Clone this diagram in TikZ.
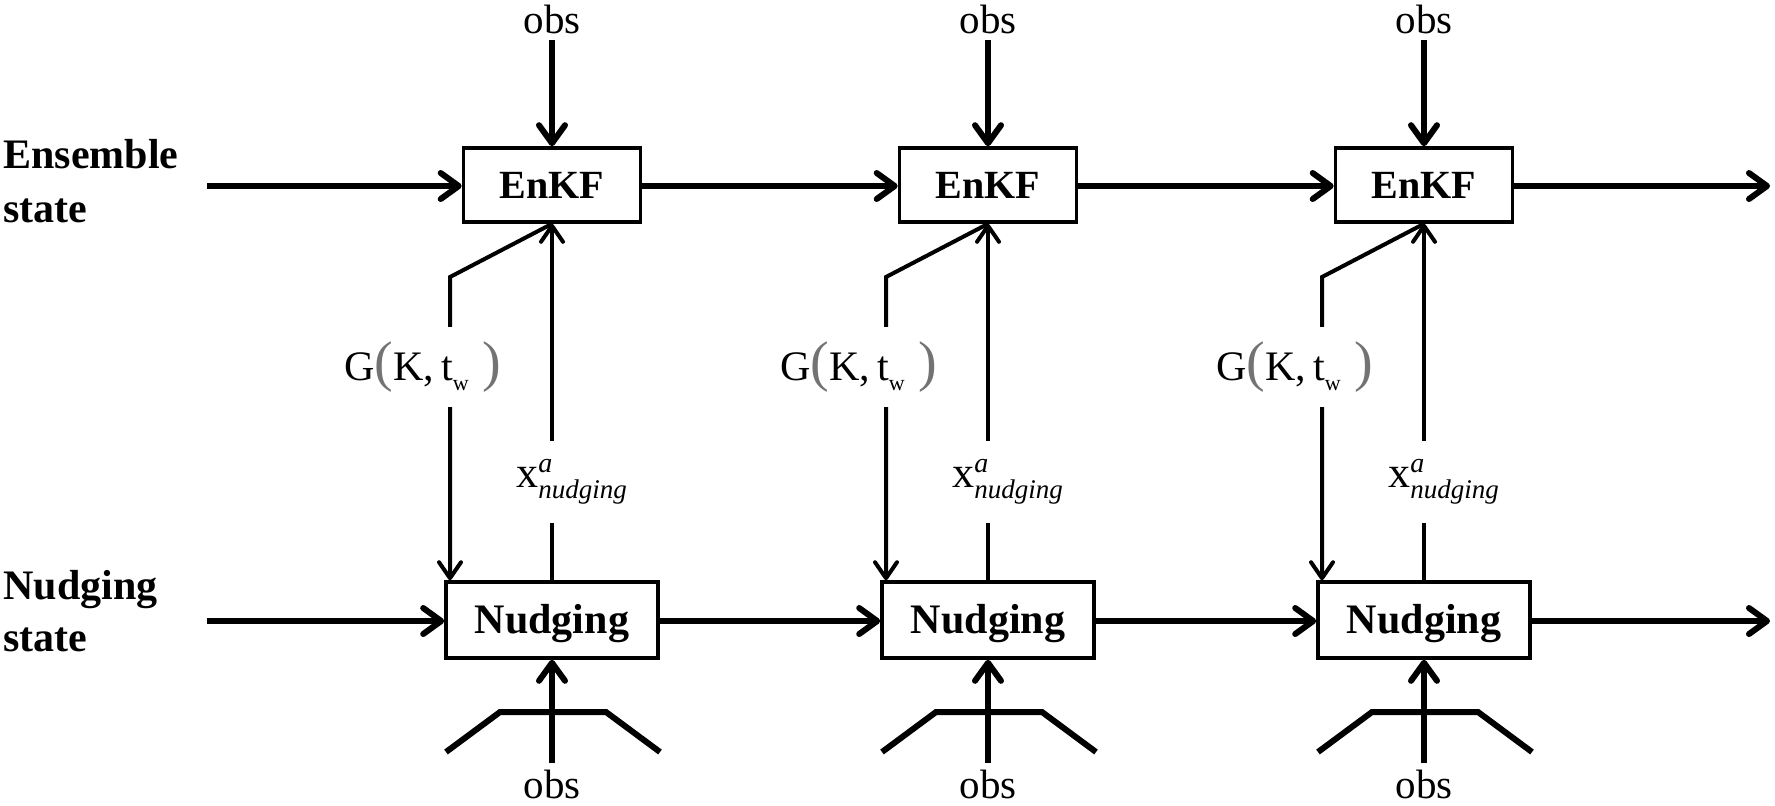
\documentclass[tikz,border=0pt]{standalone}
\usepackage{fontspec}
\setmainfont{Liberation Serif}
\usepackage{amsmath}
\usetikzlibrary{arrows.meta}
\newcommand\bigpar[1]{{\fontsize{28}{28}\selectfont\color{black!55}#1}}
\begin{document}
\begin{tikzpicture}[x=0.5pt,y=-0.5pt,
  enkfbox/.style={draw, line width=1.8pt, minimum width=88.5pt, minimum height=37pt, inner sep=0pt,
    font=\fontsize{20}{24}\selectfont\bfseries, text height=13.2pt, text depth=0pt},
  nudgebox/.style={draw, line width=1.8pt, minimum width=106pt, minimum height=38pt, inner sep=0pt,
    font=\fontsize{21}{25}\selectfont\bfseries, text height=13.9pt, text depth=0pt},
  sidelabel/.style={font=\fontsize{21}{25}\selectfont\bfseries, anchor=base west, inner sep=0pt},
  obslabel/.style={font=\fontsize{20.5}{24}\selectfont, anchor=base},
  mainarrow/.style={line width=3pt, -{Straight Barb[length=9pt,width=13pt,round]}},
  thinarrow/.style={line width=2pt, -{Straight Barb[length=8pt,width=11pt,round]}},
  gainlabel/.style={font=\fontsize{21}{25}\selectfont, fill=white, inner sep=0pt, minimum height=40pt},
  xlabel/.style={font=\fontsize{22}{26}\selectfont, fill=white, inner sep=0pt, minimum height=41pt},
  window/.style={line width=3pt}
]
\useasboundingbox (0,0) rectangle (1775,805);

% side labels
\node[sidelabel] (ens1) at (3,168) {Ensemble};
\node[sidelabel] (ens2) at (3,222) {state};
\node[sidelabel] (nud1) at (3,599) {Nudging};
\node[sidelabel] (nud2) at (3,651) {state};

\foreach \i/\c in {1/552,2/988,3/1424} {
  \node[enkfbox] (e\i) at (\c,185) {EnKF};
  \node[nudgebox] (n\i) at (\c,620) {Nudging};
  \node[obslabel] (ot\i) at (\c,33) {obs};
  \node[obslabel] (ob\i) at (\c,798) {obs};
  \coordinate (gk\i) at (\c-102,277);
  % obs arrows
  \draw[mainarrow] (ot\i.south) -- (e\i.north);
  \draw[mainarrow] (ob\i.north) -- (n\i.south);
  % observation window
  \draw[window] (\c-106,752) -- (\c-52,712) -- (\c+54,712) -- (\c+108,752);
  % gain and analysis connectors
  \draw[thinarrow] (e\i.south) -- (gk\i) -- (gk\i |- n\i.north);
  \draw[thinarrow] (n\i.north) -- (e\i.south);
  \node[gainlabel] (g\i) at (\c-129,367)
    {G\bigpar{(}K,\,t\raisebox{-5pt}{\fontsize{11}{11}\selectfont w}\,\,\bigpar{)}};
  \node[xlabel] (x\i) at (\c+20,482)
    {$\text{x}^{\text{\fontsize{14}{14}\selectfont\itshape a}}_{\text{\fontsize{13.5}{14}\selectfont\itshape nudging}}$};
}

% horizontal state arrows
\coordinate (es) at (207,186);
\coordinate (ee) at (1770,186);
\coordinate (ns) at (207,621);
\coordinate (ne) at (1770,621);
\draw[mainarrow] (es) -- (es -| e1.west);
\draw[mainarrow] (es -| e1.east) -- (es -| e2.west);
\draw[mainarrow] (es -| e2.east) -- (es -| e3.west);
\draw[mainarrow] (es -| e3.east) -- (ee);
\draw[mainarrow] (ns) -- (ns -| n1.west);
\draw[mainarrow] (ns -| n1.east) -- (ns -| n2.west);
\draw[mainarrow] (ns -| n2.east) -- (ns -| n3.west);
\draw[mainarrow] (ns -| n3.east) -- (ne);
\end{tikzpicture}
\end{document}
